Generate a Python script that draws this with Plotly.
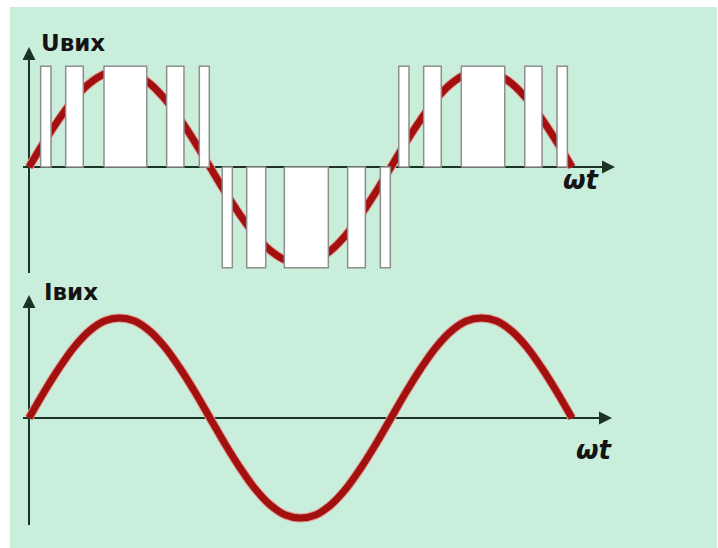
import plotly.graph_objects as go

# ---------------- data ----------------
# phase angle ωt in degrees
angle_deg = [0, 15, 30, 45, 60, 75, 90, 105, 120, 135, 150, 165, 180,
             195, 210, 225, 240, 255, 270, 285, 300, 315, 330, 345, 360,
             375, 390, 405, 420, 435, 450, 465, 480, 495, 510, 525, 540]
# output current / fundamental (relative units)
current = [0, 0.26, 0.5, 0.71, 0.87, 0.97, 1.0, 0.97, 0.87, 0.71, 0.5, 0.26, 0,
           -0.26, -0.5, -0.71, -0.87, -0.97, -1.0, -0.97, -0.87, -0.71, -0.5, -0.26, 0,
           0.26, 0.5, 0.71, 0.87, 0.97, 1.0, 0.97, 0.87, 0.71, 0.5, 0.26, 0]

# PWM pulses: start / end angle (deg) and level
pulse_start = [11.6, 36.5, 74.6, 136.9, 169.4,
               192.2, 216.5, 253.9, 316.9, 349.4,
               367.7, 392.5, 429.9, 493.0, 525.1]
pulse_end = [21.9, 54.0, 117.1, 154.1, 179.3,
             202.2, 235.4, 297.7, 334.5, 359.3,
             377.9, 410.0, 473.1, 510.2, 535.4]
pulse_level = [1.05] * 5 + [-1.05] * 5 + [1.05] * 5

u_label = "Uвих"
i_label = "Iвих"
x_label = "ωt"

# ---------------- layout helpers ----------------
W, H = 718, 548
PX_PER_DEG = 181 / 180.0
X0_PX = 29
x_range = [-X0_PX / PX_PER_DEG, (W - X0_PX) / PX_PER_DEG]

split = 280
top_zero, top_scale = 167, 96.0
bot_zero, bot_scale = 418, 100.0
top_range = [-(split - top_zero) / top_scale, top_zero / top_scale]
bot_range = [-(H - bot_zero) / bot_scale, (bot_zero - split) / bot_scale]

def px2deg(p):
    return (p - X0_PX) / PX_PER_DEG

RED = "#a31010"
RED_EDGE = "#e39a92"
AX = "#1d3326"
GREEN = "#c9eedb"

fig = go.Figure()

# top: fundamental (behind pulses)
fig.add_trace(go.Scatter(x=angle_deg, y=current, mode="lines", xaxis="x", yaxis="y",
                         line=dict(color=RED_EDGE, width=9, shape="spline"), hoverinfo="skip"))
fig.add_trace(go.Scatter(x=angle_deg, y=current, mode="lines", xaxis="x", yaxis="y",
                         line=dict(color=RED, width=7, shape="spline"), hoverinfo="skip"))

# top: pulses as filled polygons
px, py = [], []
for s, e, h in zip(pulse_start, pulse_end, pulse_level):
    px += [s, s, e, e, s, None]
    py += [0, h, h, 0, 0, None]
fig.add_trace(go.Scatter(x=px, y=py, mode="lines", fill="toself", fillcolor="white",
                         line=dict(color="#8e8e8e", width=1.5), xaxis="x", yaxis="y",
                         hoverinfo="skip"))

# bottom: current
fig.add_trace(go.Scatter(x=angle_deg, y=current, mode="lines", xaxis="x2", yaxis="y2",
                         line=dict(color=RED_EDGE, width=9, shape="spline"), hoverinfo="skip"))
fig.add_trace(go.Scatter(x=angle_deg, y=current, mode="lines", xaxis="x2", yaxis="y2",
                         line=dict(color=RED, width=7, shape="spline"), hoverinfo="skip"))

ax_common = dict(visible=False, fixedrange=True)
fig.update_layout(
    width=W, height=H, margin=dict(l=0, r=0, t=0, b=0),
    paper_bgcolor="white", plot_bgcolor="rgba(0,0,0,0)", showlegend=False,
    xaxis=dict(domain=[0, 1], range=x_range, anchor="y", **ax_common),
    yaxis=dict(domain=[1 - split / H, 1], range=top_range, anchor="x", **ax_common),
    xaxis2=dict(domain=[0, 1], range=x_range, anchor="y2", **ax_common),
    yaxis2=dict(domain=[0, 1 - split / H], range=bot_range, anchor="x2", **ax_common),
)

shapes = [dict(type="rect", xref="paper", yref="paper", x0=10 / W, x1=717 / W,
               y0=0, y1=1 - 7 / H, fillcolor=GREEN, line=dict(width=0), layer="below")]
ann = []

def axes(xr, yr, y_lo, y_hi, x_tip_px):
    xl = px2deg(23)
    xt = px2deg(x_tip_px)
    shapes.append(dict(type="line", xref=xr, yref=yr, x0=xl, x1=xt - 8, y0=0, y1=0,
                       line=dict(color=AX, width=2), layer="below"))
    shapes.append(dict(type="line", xref=xr, yref=yr, x0=0, x1=0, y0=y_lo, y1=y_hi - 0.06,
                       line=dict(color=AX, width=2), layer="below"))
    ann.append(dict(xref=xr, yref=yr, axref=xr, ayref=yr, x=xt, y=0, ax=xt - 20, ay=0,
                    text="", showarrow=True, arrowhead=2, arrowsize=1.3, arrowwidth=2,
                    arrowcolor=AX, standoff=0))
    ann.append(dict(xref=xr, yref=yr, axref=xr, ayref=yr, x=0, y=y_hi, ax=0, ay=y_hi - 0.2,
                    text="", showarrow=True, arrowhead=2, arrowsize=1.3, arrowwidth=2,
                    arrowcolor=AX, standoff=0))

axes("x", "y", (top_zero - 273) / top_scale, (top_zero - 47) / top_scale, 615)
axes("x2", "y2", (bot_zero - 525) / bot_scale, (bot_zero - 295) / bot_scale, 612)

def label(text, xp, yp, italic=False, size=23):
    ann.append(dict(xref="paper", yref="paper", x=xp / W, y=1 - yp / H, xanchor="left",
                    yanchor="middle", showarrow=False, text=text,
                    font=dict(family="DejaVu Sans", size=size, color="#141414",
                              weight="bold", style="italic" if italic else "normal")))

label(u_label, 39, 43)
label(i_label, 42, 292)
label(x_label, 561, 180, italic=True, size=26)
label(x_label, 574, 450, italic=True, size=26)

fig.update_layout(shapes=shapes, annotations=ann)
fig.write_html("out.html", config={"displayModeBar": False, "staticPlot": True},
               post_script="document.body.style.margin='0px';")
